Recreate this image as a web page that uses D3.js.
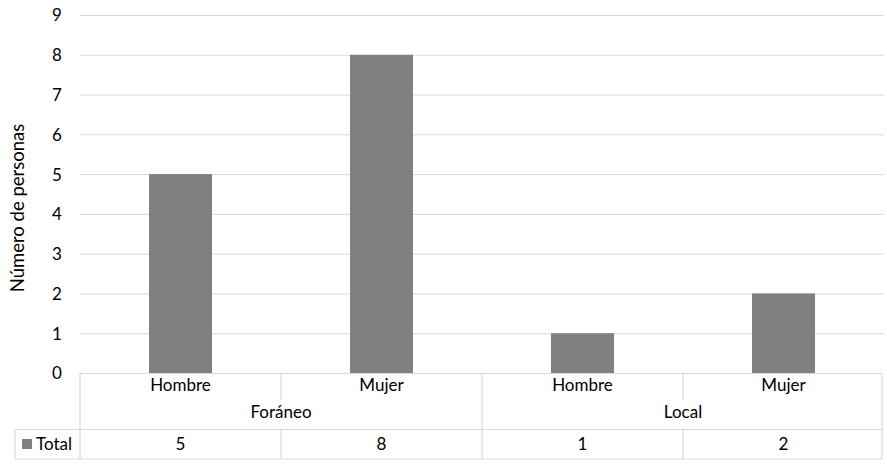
<!DOCTYPE html>
<html><head><meta charset="utf-8">
<script src="https://cdn.jsdelivr.net/npm/d3@7"></script>
<style>body{margin:0;background:#fff}text{font-family:Lato,"Open Sans",sans-serif;fill:#000}</style>
</head><body>
<svg id="c" width="887" height="466"></svg>
<script>
const groups = ["Foráneo","Local"];
const categories = ["Hombre","Mujer","Hombre","Mujer"];
const categoryGroup = ["Foráneo","Foráneo","Local","Local"];
const seriesName = "Total";
const values = [5,8,1,2];
const yTicks = [0,1,2,3,4,5,6,7,8,9];
const yTitle = "Número de personas";

const svg = d3.select("#c");
const L=80, R=884, T=15, B=373;
const x = d3.scaleBand().domain(d3.range(categories.length)).range([L,R]).paddingInner(0).paddingOuter(0);
const y = d3.scaleLinear().domain([0,9]).range([B,T]);
const grid="#d9d9d9";
const fs = 17;

svg.append("g").selectAll("line").data(yTicks.filter(d=>d>0)).join("line")
  .attr("x1",L).attr("x2",R).attr("y1",d=>y(d)+0.5).attr("y2",d=>y(d)+0.5)
  .attr("stroke",grid).attr("stroke-width",1);

const ya = svg.append("g").attr("transform",`translate(${L-16},0)`)
  .call(d3.axisLeft(y).tickValues(yTicks).tickSize(0).tickPadding(0));
ya.select(".domain").remove();
ya.selectAll("text").attr("font-size",fs).attr("text-anchor","middle").attr("dx",-7).attr("dy","0.35em").style("font-family","Lato");

svg.append("text").attr("transform",`translate(24,${(T+B)/2+14}) rotate(-90)`)
  .attr("text-anchor","middle").attr("font-size",18.5).text(yTitle);

const bw = 63;
svg.append("g").selectAll("rect").data(values).join("rect")
  .attr("x",(d,i)=>x(i)+x.bandwidth()/2-bw/2).attr("width",bw)
  .attr("y",d=>y(d)).attr("height",d=>y(0)-y(d)).attr("fill","#808080");

const tR = 882, row1=B, row2=429.5, row3=459;
const tg = svg.append("g").attr("stroke",grid).attr("stroke-width",1.2).attr("fill","none");
tg.append("line").attr("x1",L).attr("x2",tR).attr("y1",row1+0.5).attr("y2",row1+0.5);
tg.append("line").attr("x1",15).attr("x2",tR).attr("y1",row2).attr("y2",row2);
tg.append("line").attr("x1",15).attr("x2",tR).attr("y1",row3).attr("y2",row3);
tg.append("line").attr("x1",15).attr("x2",15).attr("y1",row2).attr("y2",row3);
tg.append("line").attr("x1",L).attr("x2",L).attr("y1",row1).attr("y2",row3);
tg.append("line").attr("x1",tR).attr("x2",tR).attr("y1",row1).attr("y2",row3);
categories.forEach((c,i)=>{
  if(i===0) return;
  const xx = x(i);
  const groupBoundary = categoryGroup[i]!==categoryGroup[i-1];
  tg.append("line").attr("x1",xx).attr("x2",xx)
    .attr("y1",row1).attr("y2",groupBoundary?row3:400);
  if(!groupBoundary) tg.append("line").attr("x1",xx).attr("x2",xx).attr("y1",row2).attr("y2",row3);
});

svg.append("g").selectAll("text").data(categories).join("text")
  .attr("x",(d,i)=>x(i)+x.bandwidth()/2).attr("y",385).attr("dy","0.35em")
  .attr("text-anchor","middle").attr("font-size",fs).text(d=>d);
svg.append("g").selectAll("text").data(groups).join("text")
  .attr("x",g=>{const idx=categoryGroup.map((c,i)=>c===g?i:-1).filter(i=>i>=0);
     return (x(idx[0])+x(idx[idx.length-1])+x.bandwidth())/2;})
  .attr("y",412).attr("dy","0.35em").attr("text-anchor","middle").attr("font-size",fs).text(d=>d);
svg.append("g").selectAll("text").data(values).join("text")
  .attr("x",(d,i)=>x(i)+x.bandwidth()/2).attr("y",444.5).attr("dy","0.35em")
  .attr("text-anchor","middle").attr("font-size",fs).text(d=>d);
svg.append("rect").attr("x",22).attr("y",439).attr("width",10).attr("height",10).attr("fill","#808080");
svg.append("text").attr("x",36).attr("y",444.5).attr("dy","0.35em").attr("font-size",fs).text(seriesName);
</script>
</body></html>
